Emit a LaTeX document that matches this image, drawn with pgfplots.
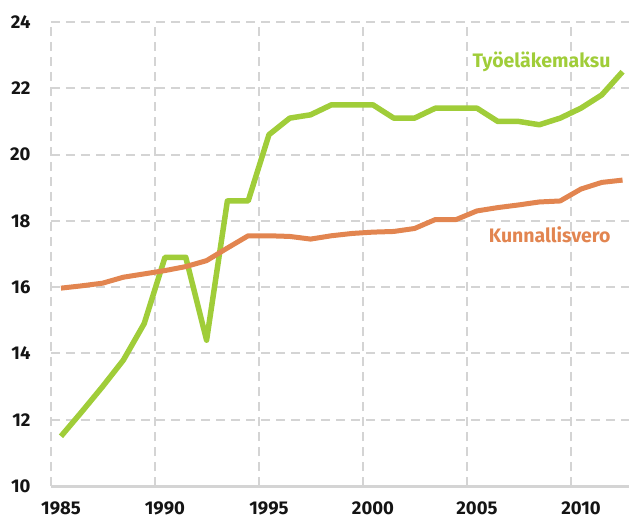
\documentclass[border=0pt]{standalone}
\usepackage{pgfplots}
\pgfplotsset{compat=1.18}
\usepackage{fontspec}
\setmainfont{Fira Sans}
\definecolor{tgreen}{RGB}{160,205,57}
\definecolor{torange}{RGB}{226,133,80}
\definecolor{tgrid}{RGB}{212,212,212}
\begin{document}
\begin{tikzpicture}[x=1pt,y=1pt]
\useasboundingbox (-51,-34) rectangle (578,486);
\begin{axis}[
  at={(0,0)}, anchor=origin,
  scale only axis, width=578pt, height=464pt,
  xmin=1984.52, xmax=2012.31, ymin=10, ymax=24,
  axis x line*=bottom, axis y line*=left,
  x axis line style={draw=tgrid, line width=3pt, -},
  y axis line style={draw=none},
  xtick={1985,1990,1995,2000,2005,2010},
  xticklabels={1985,1990,1995,2000,2005,2010},
  extra x ticks={1984.52,1989.52,1994.52,1999.52,2004.52,2009.52},
  extra x tick labels={},
  extra x tick style={xmajorgrids=true, major tick length=0pt},
  xmajorgrids=false,
  ytick={10,12,...,24},
  ymajorgrids=true,
  major tick length=0pt,
  grid style={draw=tgrid, line width=2pt, dash pattern=on 9pt off 6pt},
  /pgf/number format/assume math mode=true,
  /pgf/number format/1000 sep={},
  tick label style={font=\fontsize{18.5}{20}\selectfont\bfseries, text=black!92},
  yticklabel style={xshift=-17pt},
  xticklabel style={yshift=-12pt},
  clip=false,
]
\addplot[tgreen, line width=5.5pt, line join=round] coordinates {
(1985,11.5)(1986,12.24)(1987,13.0)(1988,13.8)(1989,14.9)(1990,16.9)(1991,16.9)(1992,14.4)(1993,18.6)(1994,18.6)(1995,20.6)(1996,21.1)(1997,21.2)(1998,21.5)(1999,21.5)(2000,21.5)(2001,21.1)(2002,21.1)(2003,21.4)(2004,21.4)(2005,21.4)(2006,21.0)(2007,21.0)(2008,20.9)(2009,21.1)(2010,21.4)(2011,21.8)(2012,22.5)};
\addplot[torange, line width=5pt, line join=round] coordinates {
(1985,15.97)(1986,16.04)(1987,16.12)(1988,16.3)(1989,16.4)(1990,16.5)(1991,16.62)(1992,16.8)(1993,17.18)(1994,17.55)(1995,17.55)(1996,17.53)(1997,17.45)(1998,17.55)(1999,17.62)(2000,17.66)(2001,17.68)(2002,17.77)(2003,18.04)(2004,18.04)(2005,18.3)(2006,18.4)(2007,18.48)(2008,18.57)(2009,18.6)(2010,18.96)(2011,19.16)(2012,19.23)};
\node[anchor=east, text=tgreen, font=\fontsize{19.5}{22}\selectfont\bfseries] at (axis cs:2011.59,22.8) {Työeläkemaksu};
\node[anchor=east, text=torange, font=\fontsize{19.5}{22}\selectfont\bfseries] at (axis cs:2011.59,17.57) {Kunnallisvero};
\end{axis}
\end{tikzpicture}
\end{document}
